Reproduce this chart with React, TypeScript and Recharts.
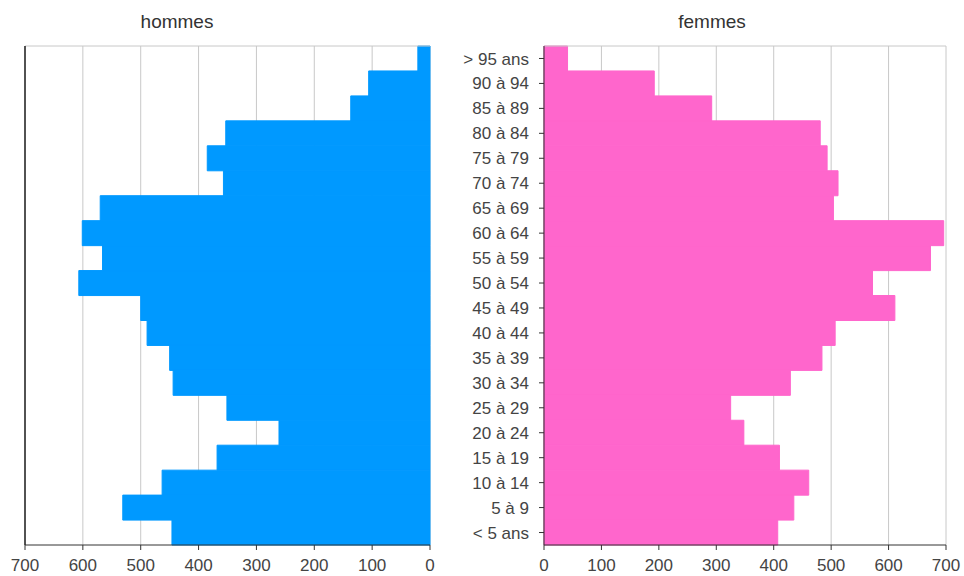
import { Bar, BarChart, CartesianGrid, XAxis, YAxis } from "recharts"

const ages = [
    "> 95 ans", "90 à 94", "85 à 89", "80 à 84", "75 à 79", "70 à 74", "65 à 69",
    "60 à 64", "55 à 59", "50 à 54", "45 à 49", "40 à 44", "35 à 39", "30 à 34",
    "25 à 29", "20 à 24", "15 à 19", "10 à 14", "5 à 9", "< 5 ans",
]
const hommes = [21, 106, 137, 353, 385, 357, 570, 601, 566, 607, 500, 489, 450, 444, 351, 261, 368, 463, 531, 446]
const femmes = [41, 192, 292, 481, 493, 512, 504, 696, 673, 572, 611, 507, 484, 429, 325, 348, 410, 461, 435, 407]
const ticks = [0, 100, 200, 300, 400, 500, 600, 700]

const data = ages.map((age, i) => ({ age, hommes: hommes[i], femmes: femmes[i] }))

const font = "'Liberation Sans', Arial, sans-serif"
const tickStyle = { fill: "#444", fontSize: 17, fontFamily: font }
const titleStyle = { position: "absolute" as const, top: 11, transform: "translateX(-50%)", fontSize: 19, color: "#333", whiteSpace: "nowrap" as const }

export default function App() {
    return (
        <div style={{ position: "fixed", left: 0, top: 0, width: 964, height: 576, background: "#fff", fontFamily: font }}>
            <span style={{ ...titleStyle, left: 177 }}>hommes</span>
            <span style={{ ...titleStyle, left: 712 }}>femmes</span>

            <div style={{ position: "absolute", left: 0, top: 0 }}>
                <BarChart
                    width={440}
                    height={576}
                    data={data}
                    layout="vertical"
                    barCategoryGap={0}
                    barGap={0}
                    margin={{ top: 45, right: 10, bottom: 1, left: 24 }}
                >
                    <CartesianGrid horizontal={false} stroke="#c8c8c8" />
                    <XAxis
                        type="number"
                        dataKey="hommes"
                        domain={[0, 700]}
                        ticks={ticks}
                        reversed
                        height={30}
                        tick={tickStyle}
                        tickLine={{ stroke: "#333" }}
                        axisLine={{ stroke: "#333" }}
                        tickSize={5}
                        tickMargin={9}
                        interval={0}
                    />
                    <XAxis
                        xAxisId="top"
                        orientation="top"
                        type="number"
                        domain={[0, 700]}
                        reversed
                        height={1}
                        tick={false}
                        tickLine={false}
                        axisLine={{ stroke: "#c8c8c8" }}
                    />
                    <YAxis
                        type="category"
                        dataKey="age"
                        width={1}
                        tick={false}
                        tickLine={false}
                        axisLine={{ stroke: "#222", strokeWidth: 1.5 }}
                    />
                    <Bar dataKey="hommes" fill="#0099ff" stroke="#0099ff" strokeWidth={1} isAnimationActive={false} />
                </BarChart>
            </div>

            <div style={{ position: "absolute", left: 440, top: 0 }}>
                <BarChart
                    width={524}
                    height={576}
                    data={data}
                    layout="vertical"
                    barCategoryGap={0}
                    barGap={0}
                    margin={{ top: 45, right: 18, bottom: 1, left: 0 }}
                >
                    <CartesianGrid horizontal={false} stroke="#c8c8c8" />
                    <XAxis
                        type="number"
                        dataKey="femmes"
                        domain={[0, 700]}
                        ticks={ticks}
                        height={30}
                        tick={tickStyle}
                        tickLine={{ stroke: "#333" }}
                        axisLine={{ stroke: "#333" }}
                        tickSize={5}
                        tickMargin={9}
                        interval={0}
                    />
                    <XAxis
                        xAxisId="top"
                        orientation="top"
                        type="number"
                        domain={[0, 700]}
                        height={1}
                        tick={false}
                        tickLine={false}
                        axisLine={{ stroke: "#c8c8c8" }}
                    />
                    <YAxis
                        type="category"
                        dataKey="age"
                        width={104}
                        tick={tickStyle}
                        tickLine={{ stroke: "#333" }}
                        tickSize={5}
                        tickMargin={10}
                        axisLine={{ stroke: "#333" }}
                        interval={0}
                    />
                    <Bar dataKey="femmes" fill="#ff66cc" stroke="#ff66cc" strokeWidth={1} isAnimationActive={false} />
                </BarChart>
            </div>
        </div>
    )
}
